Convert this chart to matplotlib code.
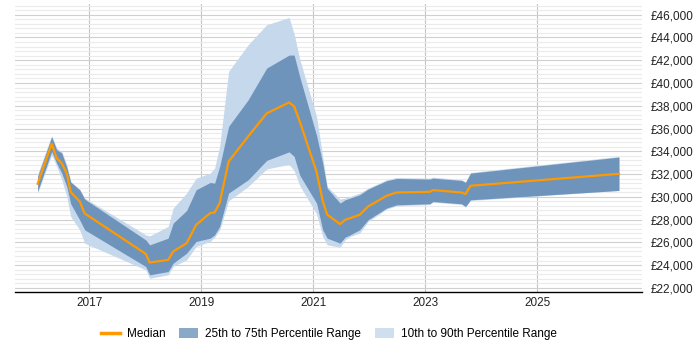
import numpy as np
import matplotlib
matplotlib.use("Agg")
import matplotlib.pyplot as plt
from matplotlib.patches import Patch
from matplotlib.lines import Line2D
from matplotlib.ticker import FuncFormatter, MultipleLocator

# decimal years
years = [2016.08, 2016.33, 2016.42, 2016.51, 2016.60, 2016.67, 2016.83, 2016.92,
         2018.01, 2018.08, 2018.41, 2018.50, 2018.74, 2018.91, 2019.16, 2019.24,
         2019.33, 2019.49, 2019.84, 2020.17, 2020.57, 2020.66, 2020.76, 2021.06,
         2021.17, 2021.25, 2021.48, 2021.57, 2021.66, 2021.83, 2021.98, 2022.31,
         2022.49, 2023.08, 2023.14, 2023.65, 2023.72, 2023.81, 2026.46]

median = [31150, 34660, 33400, 32950, 32050, 30420, 29600, 28540,
          24990, 24230, 24460, 25200, 25930, 27540, 28570, 28630,
          29450, 33100, 35310, 37330, 38290, 37950, 36620, 32200,
          29640, 28440, 27600, 27980, 28130, 28420, 29150, 30090,
          30380, 30440, 30590, 30380, 30240, 30970, 32020]

p75 = [31790, 35280, 34130, 33850, 32600, 31300, 30620, 29800,
       26220, 25780, 26370, 27690, 28800, 30620, 31260, 31200,
       32670, 36190, 38530, 41310, 42450, 42450, 40550, 35400,
       32960, 30760, 29450, 29740, 29890, 30180, 30680, 31410,
       31610, 31560, 31640, 31440, 31260, 32080, 33490]

p25 = [30470, 33990, 32960, 32080, 30910, 29390, 27980, 27100,
       23880, 23150, 23440, 24170, 25050, 26080, 26370, 26660,
       27400, 30330, 31500, 33200, 33950, 33550, 31900, 29450,
       27100, 26370, 25930, 26460, 26660, 27100, 27980, 29010,
       29300, 29390, 29590, 29390, 29150, 29740, 30560]

p90 = [32020, 35360, 34280, 33990, 32820, 31350, 30680, 29890,
       26660, 26570, 27400, 29010, 30330, 31640, 32080, 32520,
       34430, 41020, 43360, 45120, 45750, 44300, 42100, 37060,
       33550, 30910, 29800, 29890, 30030, 30330, 30760, 31500,
       31700, 31640, 31730, 31500, 31350, 32140, 33550]

p10 = [30330, 33690, 32670, 31500, 30030, 28270, 27100, 25930,
       23590, 22850, 23150, 23880, 24470, 25640, 26080, 26460,
       27100, 29650, 30910, 32450, 32850, 32300, 31000, 28500,
       26520, 25780, 25580, 26220, 26520, 26810, 27830, 28920,
       29210, 29330, 29530, 29330, 29090, 29680, 30560]

year_ticks = [2017, 2019, 2021, 2023, 2025]

plt.rcParams['font.family'] = ['Liberation Sans', 'DejaVu Sans']

fig = plt.figure(figsize=(7, 3.5), dpi=100)
ax = fig.add_axes([0.021, 0.166, 0.896, 0.823])

light = '#c6d8ec'
dark = '#6f94bb'
orange = '#ff9900'

ax.fill_between(years, p10, p90, color=light, lw=0)
ax.fill_between(years, p25, p75, color=dark, lw=0)
ax.plot(years, median, color=orange, lw=1.6)

ax.set_xlim(2015.67, 2026.87)
ax.set_ylim(21650, 46950)
ax.set_xticks(year_ticks)
ax.set_xticklabels([str(y) for y in year_ticks])
ax.yaxis.set_major_locator(MultipleLocator(2000))
ax.yaxis.set_minor_locator(MultipleLocator(400))
ax.yaxis.set_major_formatter(FuncFormatter(lambda v, p: '£{:,.0f}'.format(v)))
ax.yaxis.tick_right()
ax.tick_params(axis='y', which='both', length=0, pad=6, labelsize=8.5, colors='#222222')
ax.tick_params(axis='x', length=0, pad=4, labelsize=8.5, colors='#222222')

ax.grid(axis='y', which='major', color='#d0d0d0', lw=0.8)
ax.grid(axis='y', which='minor', color='#ebebeb', lw=0.8)
ax.grid(axis='x', which='major', color='#c4c4c4', lw=0.8)
ax.set_axisbelow(True)

for s in ['left', 'right', 'top']:
    ax.spines[s].set_visible(False)
ax.spines['bottom'].set_color('black')
ax.spines['bottom'].set_linewidth(1)

handles = [Line2D([0], [0], color=orange, lw=2.5),
           Patch(facecolor='#8aa8c8', edgecolor='none'),
           Patch(facecolor='#d0dfee', edgecolor='none')]
labels = ['Median', '25th to 75th Percentile Range', '10th to 90th Percentile Range']
fig.legend(handles, labels, loc='center', bbox_to_anchor=(0.47, 0.045), ncol=3,
           frameon=False, fontsize=8.5, handlelength=1.6, handleheight=0.9,
           columnspacing=1.2, handletextpad=0.6)

fig.savefig('out.png', dpi=100)
